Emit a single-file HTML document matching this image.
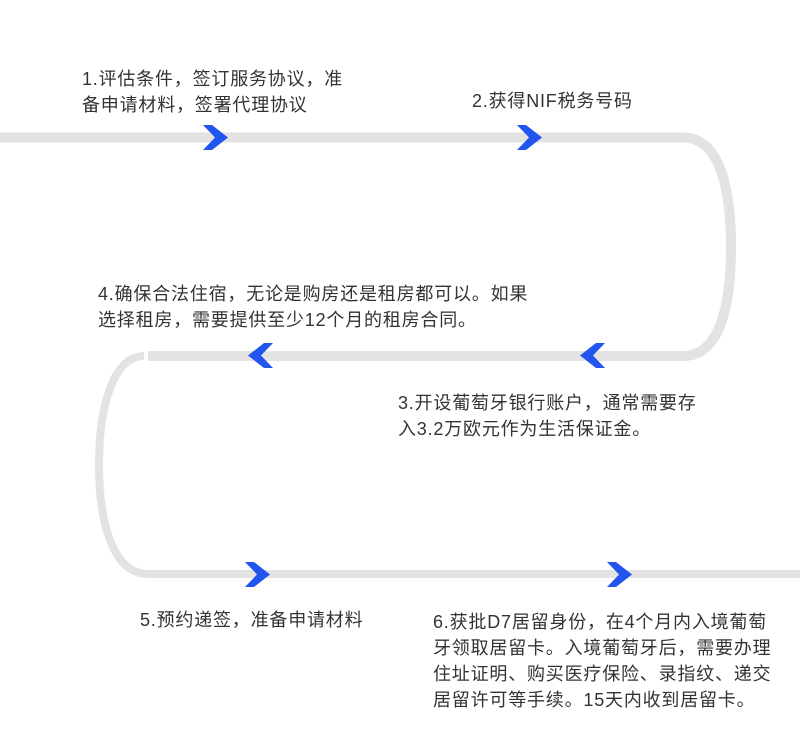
<!DOCTYPE html>
<html><head><meta charset="utf-8"><style>
html,body{margin:0;padding:0;background:#fff;width:800px;height:750px;overflow:hidden;position:relative}
.t{position:absolute;font-family:"Liberation Sans","Noto Sans CJK SC",sans-serif;font-size:18px;letter-spacing:0.8px;line-height:26px;color:#333;white-space:nowrap}
svg{position:absolute;left:0;top:0}
</style></head><body>
<svg width="800" height="750">
<g fill="none" stroke="#e3e3e3" stroke-width="10">
<path d="M0 137.5 H683 C722 137.5 731 195 731 246 C731 300 722 356 683 356 H148"/>
<path d="M144 356 C112 356 99 410 99 465 C99 520 112 574 148 574 H800" stroke-width="8"/>
</g>
<g fill="#2255ee">
<path d="M203 125 h9 l16 12.5 l-16 12.5 h-9 l12 -12.5 z"/>
<path d="M517 125 h9 l16 12.5 l-16 12.5 h-9 l12 -12.5 z"/>
<path d="M605 343 h-9 l-16 12.5 l16 12.5 h9 l-12 -12.5 z"/>
<path d="M273 343 h-9 l-16 12.5 l16 12.5 h9 l-12 -12.5 z"/>
<path d="M245 562 h9 l16 12.5 l-16 12.5 h-9 l12 -12.5 z"/>
<path d="M607 562 h9 l16 12.5 l-16 12.5 h-9 l12 -12.5 z"/>
</g>
</svg>
<div class="t" style="left:82px;top:66px">1.评估条件，签订服务协议，准<br>备申请材料，签署代理协议</div>
<div class="t" style="left:472px;top:88px">2.获得NIF税务号码</div>
<div class="t" style="left:98px;top:281px">4.确保合法住宿，无论是购房还是租房都可以。如果<br>选择租房，需要提供至少12个月的租房合同。</div>
<div class="t" style="left:398px;top:390px">3.开设葡萄牙银行账户，通常需要存<br>入3.2万欧元作为生活保证金。</div>
<div class="t" style="left:140px;top:607px">5.预约递签，准备申请材料</div>
<div class="t" style="left:433px;top:609px">6.获批D7居留身份，在4个月内入境葡萄<br>牙领取居留卡。入境葡萄牙后，需要办理<br>住址证明、购买医疗保险、录指纹、递交<br>居留许可等手续。15天内收到居留卡。</div>
</body></html>
